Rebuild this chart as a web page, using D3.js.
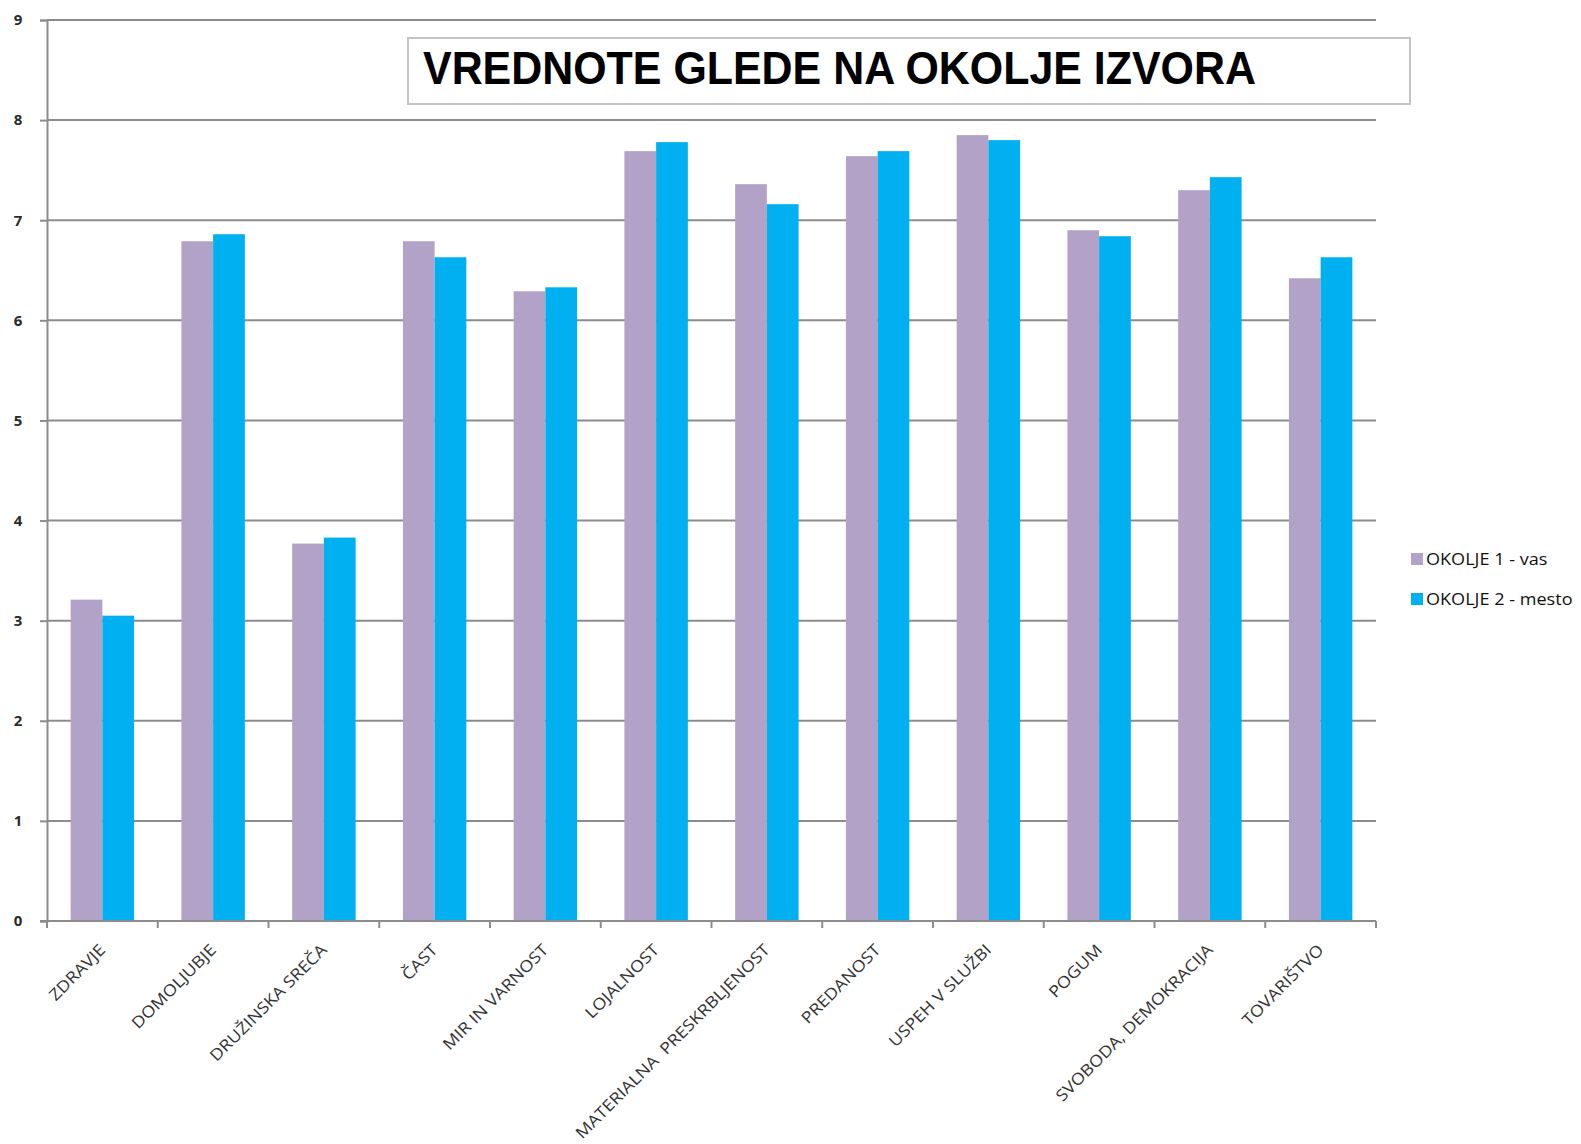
<!DOCTYPE html>
<html>
<head>
<meta charset="utf-8">
<script src="https://cdn.jsdelivr.net/npm/d3@7"></script>
<style>
  body { margin: 0; background: #fff; }
  svg { display: block; }
</style>
</head>
<body>
<div id="chart"></div>
<script>
// data
var categories = ["ZDRAVJE", "DOMOLJUBJE", "DRUŽINSKA SREČA", "ČAST", "MIR IN VARNOST",
  "LOJALNOST", "MATERIALNA  PRESKRBLJENOST", "PREDANOST", "USPEH V SLUŽBI", "POGUM",
  "SVOBODA, DEMOKRACIJA", "TOVARIŠTVO"];
var seriesNames = ["OKOLJE 1 - vas", "OKOLJE 2 - mesto"];
var vas = [3.21, 6.79, 3.77, 6.79, 6.29, 7.69, 7.36, 7.64, 7.85, 6.90, 7.30, 6.42];
var mesto = [3.05, 6.86, 3.83, 6.63, 6.33, 7.78, 7.16, 7.69, 7.80, 6.84, 7.43, 6.63];
var yTicks = [0, 1, 2, 3, 4, 5, 6, 7, 8, 9];
var colors = ["#b3a2c7", "#00b0f0"];

var svgWidth = 1581;
var svgHeight = 1144;

var plot = { left: 47, right: 1376, top: 20, bottom: 921 };

var svg = d3.select("#chart").append("svg")
  .attr("width", svgWidth)
  .attr("height", svgHeight);

// scales
var x0 = d3.scaleBand()
  .domain(categories)
  .range([plot.left, plot.right])
  .paddingInner(0)
  .paddingOuter(0);

var x1 = d3.scaleBand()
  .domain(seriesNames)
  .range([0, x0.bandwidth()])
  .paddingInner(0)
  .paddingOuter(0.746);

var y = d3.scaleLinear()
  .domain([0, 9])
  .range([plot.bottom, plot.top]);

var gridColor = "#8c8c8c";

// gridlines
svg.append("g")
  .selectAll("line")
  .data(yTicks.filter(d => d > 0))
  .enter()
  .append("line")
  .attr("x1", plot.left)
  .attr("x2", plot.right)
  .attr("y1", d => y(d))
  .attr("y2", d => y(d))
  .attr("stroke", gridColor)
  .attr("stroke-width", 2);

// title box
svg.append("rect")
  .attr("x", 408)
  .attr("y", 38)
  .attr("width", 1002)
  .attr("height", 66)
  .attr("fill", "#fff")
  .attr("stroke", "#c4c4c4")
  .attr("stroke-width", 2);

svg.append("text")
  .attr("x", 423)
  .attr("y", 84)
  .attr("font-family", "'Liberation Sans', Arial, sans-serif")
  .attr("font-weight", "bold")
  .attr("font-size", 46)
  .attr("textLength", 833)
  .attr("lengthAdjust", "spacingAndGlyphs")
  .attr("fill", "#000")
  .text("VREDNOTE GLEDE NA OKOLJE IZVORA");

// bars
var rows = categories.map((c, i) => ({ cat: c, values: [vas[i], mesto[i]] }));

var groups = svg.append("g")
  .selectAll("g")
  .data(rows)
  .enter()
  .append("g")
  .attr("transform", d => `translate(${x0(d.cat)},0)`);

groups.selectAll("rect")
  .data(d => d.values.map((v, j) => ({ name: seriesNames[j], value: v, j: j })))
  .enter()
  .append("rect")
  .attr("x", d => x1(d.name))
  .attr("y", d => y(d.value))
  .attr("width", x1.bandwidth())
  .attr("height", d => y(0) - y(d.value))
  .attr("fill", d => colors[d.j]);

// y axis
var leftAxis = d3.axisLeft(y)
  .tickValues(yTicks)
  .tickSize(7)
  .tickPadding(18)
  .tickFormat(d3.format("d"));

var yAxis = svg.append("g")
  .attr("transform", `translate(${plot.left},0)`)
  .call(leftAxis);

yAxis.select(".domain").attr("stroke", gridColor).attr("stroke-width", 2);
yAxis.selectAll(".tick line").attr("stroke", gridColor).attr("stroke-width", 2);
yAxis.selectAll(".tick text")
  .attr("font-family", "'Open Sans', sans-serif")
  .attr("font-size", 15)
  .attr("font-weight", "bold")
  .attr("fill", "#2a2a2a")
  .attr("text-anchor", "middle")
  .attr("x", -29);

// x axis line + ticks at category boundaries
var boundaries = categories.map(c => x0(c)).concat([plot.right]);

svg.append("line")
  .attr("x1", plot.left - 7)
  .attr("x2", plot.right)
  .attr("y1", plot.bottom)
  .attr("y2", plot.bottom)
  .attr("stroke", gridColor)
  .attr("stroke-width", 2);

svg.append("g")
  .selectAll("line")
  .data(boundaries)
  .enter()
  .append("line")
  .attr("x1", d => d)
  .attr("x2", d => d)
  .attr("y1", plot.bottom)
  .attr("y2", plot.bottom + 7)
  .attr("stroke", gridColor)
  .attr("stroke-width", 2);

// category labels, rotated (glyphs a bit wide, like the source)
svg.append("g")
  .selectAll("text")
  .data(categories)
  .enter()
  .append("text")
  .attr("transform", d => `translate(${x0(d) + x0.bandwidth() / 2 + 4},${plot.bottom + 30}) rotate(-45) scale(1.13,1)`)
  .attr("text-anchor", "end")
  .attr("font-family", "'Open Sans', sans-serif")
  .attr("font-size", 16)
  .attr("fill", "#333")
  .style("white-space", "pre")
  .text(d => d);

// legend
var legend = svg.append("g")
  .selectAll("g")
  .data(seriesNames)
  .enter()
  .append("g")
  .attr("transform", (d, i) => `translate(1411,${559 + i * 40})`);

legend.append("rect")
  .attr("x", 0)
  .attr("y", -6)
  .attr("width", 12)
  .attr("height", 12)
  .attr("fill", (d, i) => colors[i]);

legend.append("text")
  .attr("transform", "translate(15,6) scale(1.13,1)")
  .attr("font-family", "'Open Sans', sans-serif")
  .attr("font-size", 16)
  .attr("fill", "#111")
  .text(d => d);
</script>
</body>
</html>
